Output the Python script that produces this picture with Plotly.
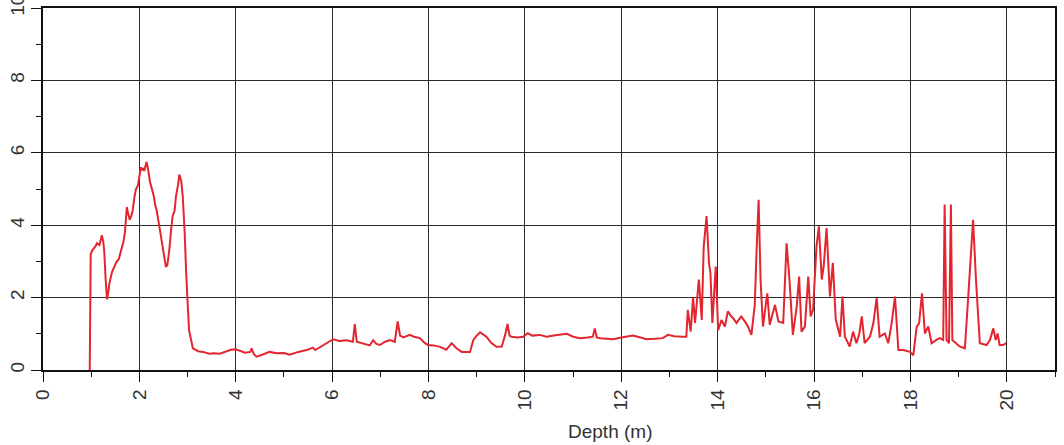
import plotly.graph_objects as go

# Depth log: depth (m) and measured value
depth = [0.97, 0.99, 1.02, 1.05, 1.09, 1.12, 1.17, 1.20, 1.22, 1.25, 1.27, 1.30, 1.33, 1.36, 1.38, 1.43,
         1.48, 1.53, 1.57, 1.60, 1.64, 1.67, 1.70, 1.74, 1.77, 1.80, 1.83, 1.86, 1.90, 1.93, 1.97, 2.00,
         2.03, 2.05, 2.08, 2.10, 2.13, 2.15, 2.18, 2.22, 2.26, 2.30, 2.33, 2.36, 2.41, 2.46, 2.51, 2.55,
         2.58, 2.62, 2.66, 2.69, 2.73, 2.76, 2.80, 2.83, 2.87, 2.90, 2.94, 2.97, 3.03, 3.11, 3.22, 3.32,
         3.45, 3.55, 3.67, 3.80, 3.90, 4.00, 4.10, 4.19, 4.30, 4.33, 4.37, 4.43, 4.55, 4.70, 4.85, 5.00,
         5.12, 5.30, 5.47, 5.60, 5.65, 5.78, 5.89, 6.02, 6.15, 6.30, 6.43, 6.47, 6.51, 6.60, 6.70, 6.78,
         6.85, 6.92, 6.99, 7.10, 7.20, 7.30, 7.36, 7.41, 7.48, 7.61, 7.70, 7.82, 7.92, 7.99, 8.10, 8.24,
         8.37, 8.48, 8.58, 8.69, 8.86, 8.93, 9.00, 9.07, 9.20, 9.30, 9.41, 9.52, 9.59, 9.64, 9.68, 9.72,
         9.85, 9.96, 10.06, 10.15, 10.31, 10.45, 10.60, 10.75, 10.87, 11.00, 11.14, 11.30, 11.41, 11.45,
         11.49, 11.56, 11.70, 11.83, 12.00, 12.24, 12.40, 12.52, 12.70, 12.86, 12.97, 13.10, 13.28, 13.35,
         13.38, 13.44, 13.49, 13.53, 13.61, 13.67, 13.71, 13.77, 13.82, 13.85, 13.89, 13.96, 14.01, 14.08,
         14.15, 14.21, 14.27, 14.32, 14.39, 14.49, 14.56, 14.63, 14.70, 14.77, 14.81, 14.85, 14.89, 14.94,
         15.03, 15.08, 15.19, 15.26, 15.36, 15.43, 15.49, 15.56, 15.64, 15.69, 15.74, 15.81, 15.88, 15.93,
         15.98, 16.05, 16.10, 16.16, 16.20, 16.26, 16.33, 16.39, 16.45, 16.50, 16.54, 16.59, 16.64, 16.74,
         16.81, 16.88, 16.94, 16.99, 17.05, 17.16, 17.23, 17.30, 17.36, 17.47, 17.54, 17.61, 17.68, 17.75,
         17.85, 17.99, 18.06, 18.13, 18.18, 18.24, 18.30, 18.37, 18.44, 18.54, 18.61, 18.68, 18.71, 18.75,
         18.80, 18.84, 18.87, 19.02, 19.13, 19.20, 19.30, 19.36, 19.44, 19.58, 19.65, 19.72, 19.77, 19.81,
         19.85, 19.92, 19.99]

value = [0.00, 3.20, 3.30, 3.35, 3.42, 3.50, 3.45, 3.60, 3.72, 3.55, 3.30, 2.50, 1.95, 2.20, 2.40, 2.70,
         2.85, 3.00, 3.05, 3.20, 3.40, 3.55, 3.80, 4.50, 4.30, 4.15, 4.25, 4.40, 4.80, 5.00, 5.10, 5.35,
         5.60, 5.52, 5.58, 5.50, 5.70, 5.75, 5.55, 5.20, 5.00, 4.80, 4.55, 4.40, 4.00, 3.60, 3.10, 2.85,
         2.90, 3.30, 3.90, 4.25, 4.40, 4.80, 5.10, 5.40, 5.20, 4.80, 3.80, 2.70, 1.10, 0.60, 0.52, 0.50,
         0.45, 0.46, 0.45, 0.52, 0.56, 0.57, 0.52, 0.48, 0.50, 0.60, 0.45, 0.37, 0.42, 0.50, 0.46, 0.47,
         0.42, 0.50, 0.55, 0.62, 0.55, 0.65, 0.74, 0.85, 0.80, 0.82, 0.78, 1.27, 0.78, 0.75, 0.70, 0.68,
         0.82, 0.72, 0.69, 0.78, 0.83, 0.78, 1.34, 0.95, 0.90, 0.97, 0.92, 0.88, 0.75, 0.69, 0.68, 0.64,
         0.56, 0.74, 0.60, 0.50, 0.50, 0.83, 0.95, 1.04, 0.92, 0.75, 0.64, 0.65, 0.97, 1.27, 0.95, 0.92,
         0.90, 0.92, 1.02, 0.95, 0.97, 0.92, 0.95, 0.97, 1.00, 0.92, 0.88, 0.90, 0.92, 1.15,
         0.90, 0.88, 0.86, 0.85, 0.90, 0.95, 0.90, 0.85, 0.86, 0.88, 0.97, 0.93, 0.92, 0.92,
         1.66, 1.06, 2.00, 1.30, 2.50, 1.38, 3.40, 4.25, 2.96, 2.68, 1.30, 2.86, 1.10, 1.38,
         1.20, 1.62, 1.50, 1.43, 1.30, 1.48, 1.35, 1.20, 0.97, 1.80, 3.40, 4.70, 2.50, 1.20,
         2.12, 1.25, 1.80, 1.34, 1.30, 3.50, 2.50, 0.97, 1.75, 2.58, 1.06, 1.20, 2.58, 1.48,
         1.66, 3.40, 3.97, 2.50, 2.86, 3.92, 2.03, 2.96, 1.40, 1.10, 0.92, 2.03, 0.92, 0.65,
         1.06, 0.74, 1.01, 1.48, 0.74, 0.92, 1.29, 1.99, 0.92, 1.01, 0.74, 1.29, 2.03, 0.55,
         0.55, 0.50, 0.41, 1.20, 1.29, 2.12, 1.01, 1.20, 0.74, 0.83, 0.88, 0.83, 4.57, 0.83,
         0.74, 4.57, 0.83, 0.65, 0.60, 2.03, 4.15, 2.50, 0.74, 0.69, 0.83, 1.15, 0.83, 1.01,
         0.69, 0.69, 0.74]

x_ticks = list(range(0, 21, 2))
y_ticks = list(range(0, 11, 2))

FONT = "Liberation Sans, Arial, sans-serif"

fig = go.Figure()
fig.add_trace(go.Scatter(
    x=depth, y=value, mode="lines",
    line=dict(color="#e2252e", width=2),
    showlegend=False, hoverinfo="skip",
))

axis_common = dict(
    showgrid=True, gridcolor="#2b2b2b", gridwidth=1,
    showline=True, linecolor="#111111", linewidth=1.5, mirror=True,
    ticks="outside", ticklen=10, tickwidth=1.2, tickcolor="#111111",
    tickangle=-90, zeroline=False, ticklabeloverflow="allow",
    tickfont=dict(family=FONT, size=19, color="#333333"),
    minor=dict(dtick=1, ticks="outside", ticklen=5, tickwidth=1.2,
               tickcolor="#111111", showgrid=False),
)

fig.update_xaxes(range=[0, 21], tickvals=x_ticks, ticktext=[str(v) for v in x_ticks],
                 **axis_common)
fig.update_yaxes(range=[0, 10], tickvals=y_ticks, ticktext=[str(v) for v in y_ticks],
                 **axis_common)

fig.add_annotation(
    text="Depth (m)", xref="paper", yref="paper", x=0.56, y=-0.171,
    xanchor="center", yanchor="middle", showarrow=False,
    font=dict(family=FONT, size=19, color="#333333"),
)

fig.update_layout(
    width=1064, height=445,
    margin=dict(l=43, r=9, t=8, b=75, autoexpand=False),
    paper_bgcolor="white", plot_bgcolor="white",
)

fig.write_html("out.html")
